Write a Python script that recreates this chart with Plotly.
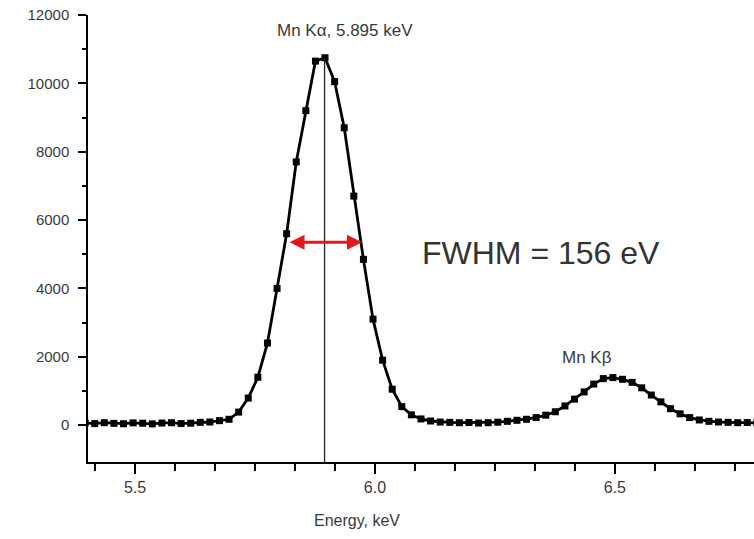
import plotly.graph_objects as go

# ---- data ----
energy_keV = [5.396, 5.416, 5.436, 5.456, 5.476, 5.496, 5.516, 5.536, 5.556, 5.576,
              5.596, 5.616, 5.636, 5.656, 5.676, 5.696, 5.716, 5.736, 5.756, 5.776,
              5.796, 5.816, 5.836, 5.856, 5.876, 5.896, 5.916, 5.936, 5.956, 5.976,
              5.996, 6.016, 6.036, 6.056, 6.076, 6.096, 6.116, 6.136, 6.156, 6.176,
              6.196, 6.216, 6.236, 6.256, 6.276, 6.296, 6.316, 6.336, 6.356, 6.376,
              6.396, 6.416, 6.436, 6.456, 6.476, 6.496, 6.516, 6.536, 6.556, 6.576,
              6.596, 6.616, 6.636, 6.656, 6.676, 6.696, 6.716, 6.736, 6.756, 6.776,
              6.796]
counts = [60, 45, 70, 50, 40, 65, 55, 35, 60, 70,
          45, 55, 80, 90, 130, 170, 380, 790, 1400, 2400,
          4000, 5600, 7700, 9200, 10650, 10750, 10050, 8700, 6700, 4850,
          3100, 1900, 1050, 540, 300, 180, 120, 90, 80, 70,
          75, 60, 70, 85, 110, 140, 170, 220, 290, 390,
          560, 760, 970, 1200, 1360, 1390, 1340, 1250, 1090, 880,
          680, 480, 330, 220, 150, 110, 90, 80, 70, 75,
          65]

x_major_ticks = [5.5, 6.0, 6.5]
x_tick_labels = ["5.5", "6.0", "6.5"]
y_major_ticks = [0, 2000, 4000, 6000, 8000, 10000, 12000]
y_minor_ticks = [1000, 3000, 5000, 7000, 9000, 11000]

ka_energy = 5.895
ka_line_top = 10750
fwhm_left, fwhm_right, half_max = 5.819, 5.973, 5350

x_range = [5.402, 6.79]
y_range = [-1080, 12000]

label_color = "#3a3a3a"
font_family = "Liberation Sans, Arial, sans-serif"

fig = go.Figure()
fig.add_trace(go.Scatter(
    x=energy_keV, y=counts, mode="lines+markers",
    line=dict(color="black", width=2.8),
    marker=dict(symbol="square", size=7, color="black"),
    showlegend=False, cliponaxis=True,
))

# vertical line at Ka energy
fig.add_shape(type="line", xref="x", yref="y",
              x0=ka_energy, x1=ka_energy, y0=y_range[0], y1=ka_line_top,
              line=dict(color="#222222", width=1.3))

# FWHM double arrow
fig.add_annotation(x=fwhm_right, y=half_max, ax=fwhm_left, ay=half_max,
                   xref="x", yref="y", axref="x", ayref="y",
                   text="", showarrow=True, arrowhead=2, arrowside="end+start",
                   arrowsize=1.0, arrowwidth=3, arrowcolor="#e3161d")

fig.add_annotation(x=5.9375, y=11560, xref="x", yref="y", text="Mn Kα, 5.895 keV",
                   showarrow=False, font=dict(size=17, color=label_color, family=font_family))
fig.add_annotation(x=6.346, y=5030, xref="x", yref="y", text="FWHM = 156 eV",
                   showarrow=False, font=dict(size=32, color="#333333", family=font_family))
fig.add_annotation(x=6.442, y=1990, xref="x", yref="y", text="Mn Kβ",
                   showarrow=False, font=dict(size=17, color=label_color, family=font_family))
fig.add_annotation(x=0.404, y=-0.13, xref="paper", yref="paper", text="Energy, keV",
                   showarrow=False, yanchor="middle",
                   font=dict(size=16, color=label_color, family=font_family))

fig.update_xaxes(
    range=x_range, tickvals=x_major_ticks, ticktext=x_tick_labels,
    ticks="outside", ticklen=10, tickwidth=1.5, tickcolor="black",
    showline=True, linecolor="black", linewidth=1.5, showgrid=False, zeroline=False,
    tickfont=dict(size=16, color=label_color, family=font_family),
    minor=dict(tick0=5.5, dtick=0.5 / 6, ticks="outside", ticklen=7,
               tickwidth=1.5, tickcolor="black", showgrid=False),
)
fig.update_yaxes(
    range=y_range, tickvals=y_major_ticks, tickformat="d",
    ticks="outside", ticklen=8, tickwidth=1.5, tickcolor="black",
    showline=True, linecolor="black", linewidth=1.5, showgrid=False, zeroline=False,
    ticklabelstandoff=6,
    tickfont=dict(size=15, color=label_color, family=font_family),
    minor=dict(tickvals=y_minor_ticks, ticks="outside", ticklen=4,
               tickwidth=1.5, tickcolor="black", showgrid=False),
)
fig.update_layout(
    width=754, height=539,
    margin=dict(l=88, r=0, t=15, b=77),
    paper_bgcolor="white", plot_bgcolor="white",
    font=dict(family=font_family),
)
fig.write_html("out.html")
